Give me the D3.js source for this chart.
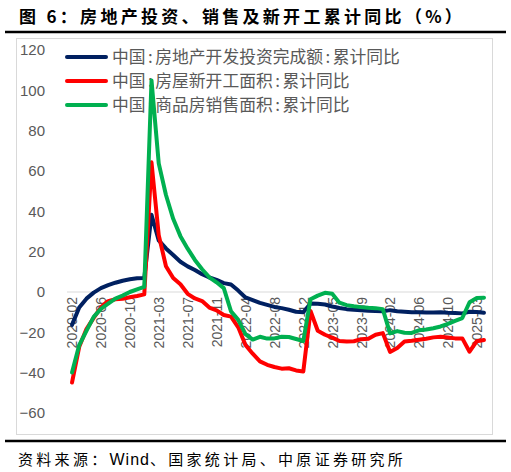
<!DOCTYPE html>
<html>
  <head>
    <meta charset="UTF-8" />
    <title>房地产投资、销售及新开工累计同比</title>
    <style>
      body { margin: 0; background: #fff; }
      svg { display: block; }
    </style>
  </head>
  <body>
    <svg></svg>
    <script src="https://d3js.org/d3.v7.min.js"></script>
    <script>
      // categories (cumulative data, Jan merged into Feb)
      var months = [
        "2020-02","2020-03","2020-04","2020-05","2020-06","2020-07","2020-08","2020-09","2020-10","2020-11","2020-12",
        "2021-02","2021-03","2021-04","2021-05","2021-06","2021-07","2021-08","2021-09","2021-10","2021-11","2021-12",
        "2022-02","2022-03","2022-04","2022-05","2022-06","2022-07","2022-08","2022-09","2022-10","2022-11","2022-12",
        "2023-02","2023-03","2023-04","2023-05","2023-06","2023-07","2023-08","2023-09","2023-10","2023-11","2023-12",
        "2024-02","2024-03","2024-04","2024-05","2024-06","2024-07","2024-08","2024-09","2024-10","2024-11","2024-12",
        "2025-02","2025-03","2025-04"
      ];
      // 房地产开发投资完成额:累计同比
      var investment = [
        -16.3, -7.7, -3.3, -0.3, 1.9, 3.4, 4.6, 5.6, 6.3, 6.8, 7.0,
        38.3, 25.6, 21.6, 18.3, 15.0, 12.7, 10.9, 8.8, 7.2, 6.0, 4.4,
        3.7, 0.7, -2.7, -4.0, -5.4, -6.4, -7.4, -8.0, -8.8, -9.8, -10.0,
        -5.7, -5.8, -6.2, -7.2, -7.9, -8.5, -8.8, -9.1, -9.3, -9.4, -9.6,
        -9.0, -9.5, -9.8, -10.1, -10.1, -10.2, -10.2, -10.1, -10.3, -10.4, -10.6,
        -9.8, -9.9, -10.3
      ];
      // 房屋新开工面积:累计同比
      var newStarts = [
        -44.9, -27.2, -18.4, -12.8, -7.6, -4.5, -3.6, -3.4, -2.6, -2.0, -1.2,
        64.3, 28.2, 12.8, 6.9, 3.8, -0.9, -3.2, -4.5, -7.7, -9.1, -11.4,
        -12.2, -17.5, -26.3, -30.6, -34.4, -36.1, -37.2, -38.0, -37.8, -38.9, -39.4,
        -9.4, -19.2, -21.2, -22.6, -24.3, -24.5, -24.4, -23.4, -23.2, -21.2, -20.4,
        -29.7, -27.8, -24.6, -24.2, -23.7, -23.2, -22.5, -22.2, -22.6, -23.0, -23.0,
        -29.6, -24.4, -23.8
      ];
      // 商品房销售面积:累计同比
      var salesArea = [
        -39.9, -26.3, -19.3, -12.3, -8.4, -5.8, -3.3, -1.8, 0.0, 1.3, 2.6,
        104.9, 63.8, 48.1, 36.3, 27.7, 21.5, 15.9, 11.3, 7.3, 4.8, 1.9,
        -9.6, -13.8, -20.9, -23.6, -22.2, -23.1, -23.0, -22.2, -22.3, -23.3, -24.3,
        -3.6, -1.8, -0.4, -0.9, -5.3, -6.5, -7.1, -7.5, -7.8, -8.0, -8.5,
        -20.5, -19.4, -20.2, -20.3, -19.0, -18.6, -18.0, -17.1, -15.8, -14.3, -12.9,
        -5.1, -3.0, -2.8
      ];
      var yTicks = [120, 100, 80, 60, 40, 20, 0, -20, -40, -60];
      var seriesNames = [
        "中国:房地产开发投资完成额:累计同比",
        "中国:房屋新开工面积:累计同比",
        "中国:商品房销售面积:累计同比"
      ];
      var colours = ["#002060", "#ff0000", "#00b050"];

      var width = 511, height = 472;
      var svg = d3.select("svg").attr("width", width).attr("height", height);
      var cjk = "'Noto Sans CJK SC', sans-serif";
      var num = "'Liberation Sans', Arial, sans-serif";

      // title
      svg.append("text")
        .attr("x", 19).attr("y", 23)
        .attr("font-family", cjk).attr("font-weight", "bold")
        .attr("font-size", 17).attr("letter-spacing", 3.3)
        .attr("fill", "#000")
        .text("图 6：房地产投资、销售及新开工累计同比（%）");
      svg.append("line").attr("x1", 5).attr("x2", 506).attr("y1", 32).attr("y2", 32)
        .attr("stroke", "#000").attr("stroke-width", 2.6);

      // chart area frame
      svg.append("rect").attr("x", 16.5).attr("y", 38.5).attr("width", 476).attr("height", 396)
        .attr("fill", "none").attr("stroke", "#d9d9d9").attr("stroke-width", 1);

      var x = d3.scalePoint().domain(months).range([72, 484]);
      var y = d3.scaleLinear().domain([-60, 120]).range([413, 50]);

      // zero line
      svg.append("line").attr("x1", 67).attr("x2", 486)
        .attr("y1", y(0)).attr("y2", y(0))
        .attr("stroke", "#d9d9d9").attr("stroke-width", 1.2);

      // y axis
      var yAxis = svg.append("g").attr("transform", "translate(45,0)")
        .call(d3.axisLeft(y).tickValues(yTicks).tickSize(0).tickPadding(0));
      yAxis.select(".domain").remove();
      yAxis.selectAll("text").attr("font-family", num).attr("font-size", 15)
        .attr("fill", "#595959");

      // x axis labels, every 4th category, rotated
      var xAxis = svg.append("g").attr("transform", "translate(0," + (y(0) + 5) + ")")
        .call(d3.axisBottom(x).tickValues(months.filter(function (d, i) { return i % 4 === 0; }))
          .tickSize(0).tickPadding(0));
      xAxis.select(".domain").remove();
      xAxis.selectAll("text")
        .attr("font-family", num).attr("font-size", 14).attr("fill", "#595959")
        .attr("transform", "rotate(-90)")
        .attr("text-anchor", "end")
        .attr("dy", "0.35em").attr("dx", 0).attr("x", 0).attr("y", 0);

      // legend (drawn under the lines, as in the original)
      var legend = svg.append("g");
      seriesNames.forEach(function (name, k) {
        var ly = 57 + k * 24;
        legend.append("line").attr("x1", 67).attr("x2", 106).attr("y1", ly).attr("y2", ly)
          .attr("stroke", colours[k]).attr("stroke-width", 4).attr("stroke-linecap", "round");
        var t = legend.append("text").attr("x", 112).attr("y", ly).attr("dy", "0.36em")
          .attr("font-family", cjk).attr("font-size", 16.8).attr("fill", "#595959");
        name.split(":").forEach(function (part, j) {
          if (j > 0) t.append("tspan").attr("dx", 2.5).text(":");
          t.append("tspan").attr("dx", j > 0 ? 2.5 : 0).text(part);
        });
      });

      // lines
      var line = d3.line()
        .x(function (d, i) { return x(months[i]); })
        .y(function (d) { return y(d); });
      [investment, newStarts, salesArea].forEach(function (s, k) {
        svg.append("path").datum(s)
          .attr("d", line)
          .attr("fill", "none")
          .attr("stroke", colours[k])
          .attr("stroke-width", 4)
          .attr("stroke-linejoin", "round")
          .attr("stroke-linecap", "round");
      });

      // bottom rule and source
      svg.append("line").attr("x1", 5).attr("x2", 506).attr("y1", 441).attr("y2", 441)
        .attr("stroke", "#000").attr("stroke-width", 2.4);
      var src = svg.append("text")
        .attr("x", 18).attr("y", 465)
        .attr("font-family", cjk).attr("font-size", 15).attr("fill", "#000");
      src.append("tspan").attr("letter-spacing", 3.3).text("资料来源：");
      src.append("tspan").attr("font-family", num).attr("font-size", 16)
        .attr("letter-spacing", 1).text("Wind");
      src.append("tspan").attr("letter-spacing", 3.3).text("、国家统计局、中原证券研究所");
    </script>
  </body>
</html>
